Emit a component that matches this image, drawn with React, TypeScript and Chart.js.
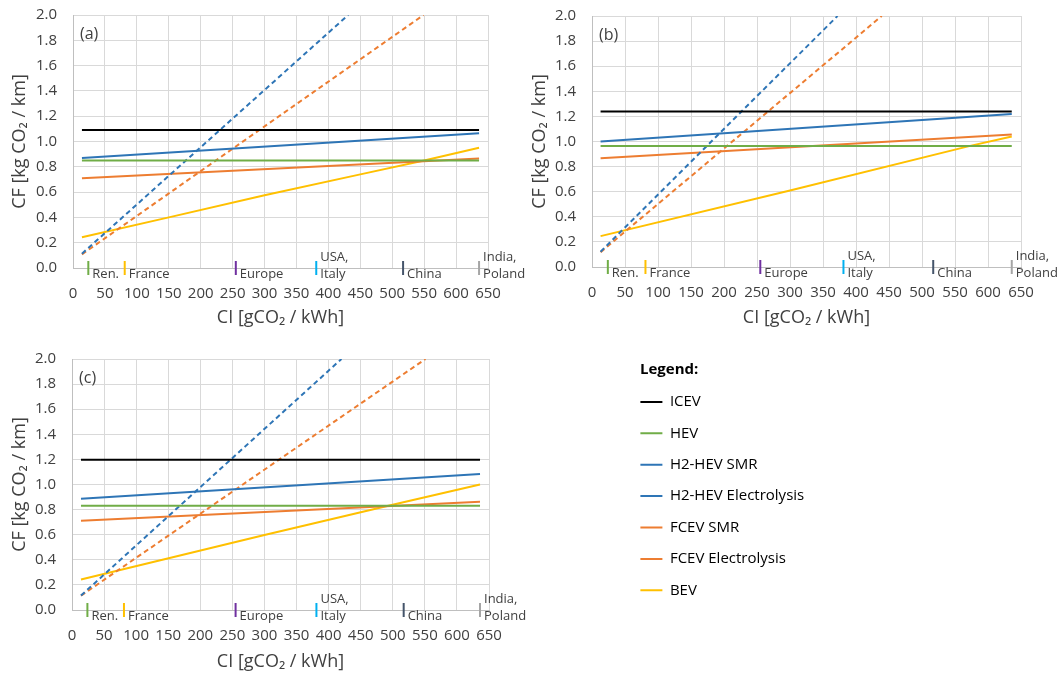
import React, { useEffect, useRef } from "react";
import { Chart, registerables } from "chart.js";
Chart.register(...registerables);

const FONT = "'Open Sans', 'Noto Sans', sans-serif";
const TEXT = "#404040";

// Series (legend order)
const seriesNames = ["ICEV", "HEV", "H2-HEV SMR", "H2-HEV Electrolysis", "FCEV SMR", "FCEV Electrolysis", "BEV"];
const seriesColors = ["#000000", "#70AD47", "#2E75B6", "#2E75B6", "#ED7D31", "#ED7D31", "#FFC000"];
const seriesDashed = [false, false, false, true, false, true, false];

// Axis ranges / ticks
const xMin = 0, xMax = 650, xStep = 50;
const yMin = 0, yMax = 2.0, yStep = 0.2;

// Regional carbon intensity markers
const regionCI = [24, 81, 255, 381, 517, 636];
const regionLabels = [["Ren."], ["France"], ["Europe"], ["USA,", "Italy"], ["China"], ["India,", "Poland"]];
const regionColors = ["#70AD47", "#FFC000", "#7030A0", "#00B0F0", "#44546A", "#A5A5A5"];

const panelLabels = ["(a)", "(b)", "(c)"];

// ---- Panel (a) ----
const aLineCI = [14, 636];
const aICEV = [1.09, 1.09];
const aHEV = [0.85, 0.85];
const aH2SMR = [0.87, 1.065];
const aH2ElecCI = [14, 431];
const aH2Elec = [0.113, 2.0];
const aFCSMR = [0.71, 0.865];
const aFCElecCI = [14, 549];
const aFCElec = [0.108, 2.0];
const aBEVCI = [14, 150, 300, 450, 550, 636];
const aBEV = [0.243, 0.4, 0.575, 0.74, 0.85, 0.95];

// ---- Panel (b) ----
const bLineCI = [13, 636];
const bICEV = [1.24, 1.24];
const bHEV = [0.965, 0.965];
const bH2SMR = [1.0, 1.22];
const bH2ElecCI = [13, 372];
const bH2Elec = [0.122, 2.0];
const bFCSMR = [0.866, 1.056];
const bFCElecCI = [13, 439];
const bFCElec = [0.118, 2.0];
const bBEVCI = [13, 300, 573, 636];
const bBEV = [0.246, 0.61, 0.965, 1.04];

// ---- Panel (c) ----
const cLineCI = [14, 636];
const cICEV = [1.197, 1.197];
const cHEV = [0.831, 0.831];
const cH2SMR = [0.887, 1.084];
const cH2ElecCI = [14, 420];
const cH2Elec = [0.115, 2.0];
const cFCSMR = [0.711, 0.862];
const cFCElecCI = [14, 551];
const cFCElec = [0.114, 2.0];
const cBEVCI = [14, 300, 493, 636];
const cBEV = [0.243, 0.598, 0.831, 1.0];

const pts = (xs: number[], ys: number[]) => xs.map((x, i) => ({ x, y: ys[i] }));

const panelSeries = [
  [
    pts(aLineCI, aICEV), pts(aLineCI, aHEV), pts(aLineCI, aH2SMR), pts(aH2ElecCI, aH2Elec),
    pts(aLineCI, aFCSMR), pts(aFCElecCI, aFCElec), pts(aBEVCI, aBEV),
  ],
  [
    pts(bLineCI, bICEV), pts(bLineCI, bHEV), pts(bLineCI, bH2SMR), pts(bH2ElecCI, bH2Elec),
    pts(bLineCI, bFCSMR), pts(bFCElecCI, bFCElec), pts(bBEVCI, bBEV),
  ],
  [
    pts(cLineCI, cICEV), pts(cLineCI, cHEV), pts(cLineCI, cH2SMR), pts(cH2ElecCI, cH2Elec),
    pts(cLineCI, cFCSMR), pts(cFCElecCI, cFCElec), pts(cBEVCI, cBEV),
  ],
];

// layout boxes for each panel canvas
const panelBoxes = [
  { left: 0, top: 0, w: 560, h: 336, yW: 73, pad: { left: 0, top: 15, right: 72, bottom: 0 }, xH: 68, xtPad: 7 },
  { left: 520, top: 0, w: 543, h: 336, yW: 72, pad: { left: 0, top: 16, right: 42, bottom: 0 }, xH: 69, xtPad: 7 },
  { left: 0, top: 340, w: 560, h: 336, yW: 72, pad: { left: 0, top: 19, right: 71, bottom: 0 }, xH: 66, xtPad: 3.5 },
];

const annotPlugin = {
  id: "annot",
  afterDatasetsDraw(chart: any, _args: any, opts: any) {
    const { ctx, chartArea } = chart;
    const x = chart.scales.x;
    const y = chart.scales.y;
    ctx.save();
    ctx.fillStyle = TEXT;
    ctx.textAlign = "left";
    ctx.textBaseline = "middle";
    ctx.font = `13px ${FONT}`;
    const y0 = y.getPixelForValue(0);
    regionCI.forEach((ci, i) => {
      const lines = regionLabels[i];
      const px = x.getPixelForValue(ci) + 4;
      lines.forEach((t, j) => {
        ctx.fillText(t, px, y0 + 6.5 - (lines.length - 1 - j) * 17);
      });
    });
    ctx.font = `16px ${FONT}`;
    ctx.fillText(opts.label, chartArea.left + 7, chartArea.top + 19);
    ctx.restore();
  },
};

function Panel({ idx }: { idx: number }) {
  const ref = useRef<HTMLCanvasElement>(null);
  const box = panelBoxes[idx];
  useEffect(() => {
    if (!ref.current) return;
    const datasets: any[] = panelSeries[idx].map((data, i) => ({
      type: "line",
      label: seriesNames[i],
      data,
      borderColor: seriesColors[i],
      backgroundColor: seriesColors[i],
      borderWidth: 2,
      borderDash: seriesDashed[i] ? [5, 3.5] : [],
      pointRadius: 0,
      tension: 0,
      fill: false,
    }));
    datasets.push({
      type: "scatter",
      label: "regions",
      data: regionCI.map((ci) => ({ x: ci, y: 0 })),
      pointStyle: "line",
      rotation: 90,
      pointRadius: 7,
      pointBorderWidth: 2,
      pointBorderColor: regionColors,
      pointBackgroundColor: regionColors,
      clip: false,
    });
    const chart = new Chart(ref.current, {
      type: "scatter",
      data: { datasets },
      plugins: [annotPlugin],
      options: {
        responsive: false,
        animation: false,
        layout: { padding: box.pad },
        plugins: {
          legend: { display: false },
          tooltip: { enabled: false },
          annot: { label: panelLabels[idx] },
        } as any,
        scales: {
          x: {
            type: "linear",
            min: xMin,
            max: xMax,
            afterBuildTicks: (s: any) => {
              const t = [];
              for (let v = xMin; v <= xMax + 1e-9; v += xStep) t.push({ value: v });
              s.ticks = t;
            },
            afterFit: (s: any) => { s.height = box.xH; },
            grid: { color: "#D9D9D9", drawTicks: true, tickLength: 16, tickColor: "rgba(0,0,0,0)", lineWidth: 1 },
            border: { color: "#BFBFBF", width: 1 },
            ticks: { color: TEXT, font: { family: FONT, size: 15 }, padding: 1, maxRotation: 0, autoSkip: false },
            title: { display: true, text: "CI [gCO₂ / kWh]", color: TEXT, font: { family: FONT, size: 18 }, padding: { top: 0, bottom: box.xtPad } },
          },
          y: {
            type: "linear",
            min: yMin,
            max: yMax,
            afterBuildTicks: (s: any) => {
              const t = [];
              for (let k = 0; k <= Math.round((yMax - yMin) / yStep); k++) t.push({ value: +(yMin + k * yStep).toFixed(1) });
              s.ticks = t;
            },
            afterFit: (s: any) => { s.width = box.yW; },
            grid: { color: "#D9D9D9", drawTicks: true, tickLength: 16, tickColor: "rgba(0,0,0,0)", lineWidth: 1 },
            border: { color: "#BFBFBF", width: 1 },
            ticks: { color: TEXT, font: { family: FONT, size: 15 }, padding: 0, callback: (v: any) => Number(v).toFixed(1) },
            title: { display: true, text: "CF [kg CO₂ / km]", color: TEXT, font: { family: FONT, size: 18 }, padding: { top: 9, bottom: 0 } },
          },
        },
      } as any,
    });
    return () => chart.destroy();
  }, [idx]);
  return (
    <div style={{ position: "absolute", left: box.left, top: box.top, width: box.w, height: box.h }}>
      <canvas ref={ref} width={box.w} height={box.h} style={{ width: box.w, height: box.h }} />
    </div>
  );
}

const legendTitlePlugin = {
  id: "legendTitle",
  afterDraw(chart: any) {
    const { ctx } = chart;
    ctx.save();
    ctx.fillStyle = "#000";
    ctx.font = `bold 15px ${FONT}`;
    ctx.textAlign = "left";
    ctx.textBaseline = "middle";
    ctx.fillText("Legend:", 16, 20);
    ctx.restore();
  },
};

function LegendPanel() {
  const ref = useRef<HTMLCanvasElement>(null);
  useEffect(() => {
    if (!ref.current) return;
    const chart = new Chart(ref.current, {
      type: "line",
      data: {
        datasets: seriesNames.map((n, i) => ({
          label: n,
          data: [],
          borderColor: seriesColors[i],
          backgroundColor: seriesColors[i],
          borderWidth: 2,
          borderDash: seriesDashed[i] ? [5, 3.5] : [],
        })),
      },
      plugins: [legendTitlePlugin],
      options: {
        responsive: false,
        animation: false,
        layout: { padding: { top: 28, left: 0, right: 0, bottom: 0 } },
        scales: { x: { display: false }, y: { display: false } },
        plugins: {
          tooltip: { enabled: false },
          legend: {
            display: true,
            position: "left",
            align: "start",
            labels: {
              usePointStyle: true,
              pointStyle: "line",
              pointStyleWidth: 22,
              boxHeight: 15,
              color: "#000",
              font: { family: FONT, size: 15 },
              padding: 16.4,
            },
          },
        },
      } as any,
    });
    return () => chart.destroy();
  }, []);
  return (
    <div style={{ position: "absolute", left: 624, top: 350, width: 439, height: 290 }}>
      <canvas ref={ref} width={439} height={290} style={{ width: 439, height: 290 }} />
    </div>
  );
}

export default function App() {
  return (
    <div style={{ position: "fixed", left: 0, top: 0, width: 1063, height: 676, background: "#fff", overflow: "hidden" }}>
      <Panel idx={0} />
      <Panel idx={1} />
      <Panel idx={2} />
      <LegendPanel />
    </div>
  );
}
